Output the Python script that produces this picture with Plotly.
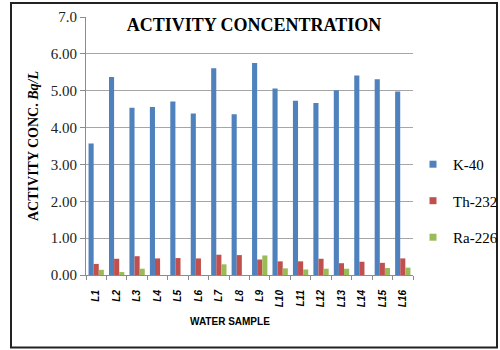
import plotly.graph_objects as go

samples = ["L1", "L2", "L3", "L4", "L5", "L6", "L7", "L8",
           "L9", "L10", "L11", "L12", "L13", "L14", "L15", "L16"]
k40 = [3.57, 5.37, 4.54, 4.56, 4.71, 4.38, 5.61, 4.36,
       5.75, 5.06, 4.73, 4.67, 5.01, 5.41, 5.31, 4.98]
th232 = [0.30, 0.44, 0.51, 0.45, 0.46, 0.45, 0.55, 0.54,
         0.42, 0.37, 0.37, 0.44, 0.32, 0.36, 0.33, 0.45]
ra226 = [0.14, 0.08, 0.17, 0.0, 0.0, 0.0, 0.29, 0.0,
         0.53, 0.18, 0.15, 0.17, 0.17, 0.0, 0.19, 0.20]
series_names = ["K-40", "Th-232", "Ra-226"]
colors = ["#4f81bd", "#c0504d", "#9bbb59"]
ytick_vals = [0, 1, 2, 3, 4, 5, 6, 7]
ytick_text = ["0.00", "1.00", "2.00", "3.00", "4.00", "5.00", "6.00", "7.0"]

serif = "Liberation Serif, Times New Roman, serif"
sans = "Liberation Sans, Arial, sans-serif"

fig = go.Figure()
for name, vals, col in zip(series_names, [k40, th232, ra226], colors):
    fig.add_trace(go.Bar(x=samples, y=vals, name=name, marker_color=col,
                         marker_line_width=0, showlegend=False))
    fig.add_trace(go.Scatter(x=[None], y=[None], mode="markers", name=name,
                             marker=dict(symbol="square", size=7, color=col),
                             legendgroup=name, showlegend=True))

fig.update_layout(
    width=500, height=350,
    margin=dict(l=86, r=87, t=17, b=75, autoexpand=False),
    paper_bgcolor="white", plot_bgcolor="white",
    barmode="group", bargap=0.25, bargroupgap=0,
    title=dict(text="<b>ACTIVITY CONCENTRATION</b>", x=0.508, xanchor="center",
               y=0.93, yanchor="middle",
               font=dict(family=serif, size=18, color="black")),
    legend=dict(x=1.0, xref="paper", xanchor="left", y=0.287, yanchor="middle",
                font=dict(family=serif, size=15, color="black"),
                tracegroupgap=14, itemwidth=30, bgcolor="rgba(0,0,0,0)"),
    xaxis=dict(
        type="category", tickangle=-90, ticks="outside", tickson="boundaries",
        ticklen=4, tickcolor="#8c8c8c", showline=True, linecolor="#8c8c8c",
        tickfont=dict(family=sans, size=10, color="black"),
        showgrid=False, ticklabelstandoff=10,
        tickvals=samples, ticktext=["<b><i>%s</i></b>" % s for s in samples],
    ),
    yaxis=dict(
        range=[0, 7], tickvals=ytick_vals, ticktext=ytick_text,
        ticks="outside", ticklen=5, tickcolor="#8c8c8c",
        showline=True, linecolor="#8c8c8c", showgrid=True, gridcolor="#a6a6a6",
        tickfont=dict(family=serif, size=15, color="#222"), zeroline=False,
        title=dict(text="<b>ACTIVITY CONC. <i>Bq/L</i></b>", standoff=8,
                   font=dict(family=serif, size=14, color="black")),
    ),
)

fig.add_annotation(text="<b>WATER SAMPLE</b>", xref="paper", yref="paper",
                   x=(230 - 86) / 327, y=(275 - 322) / 258, showarrow=False,
                   xanchor="center", yanchor="middle",
                   font=dict(family=sans, size=10, color="black"))

fig.add_shape(type="rect", xref="paper", yref="paper",
              x0=(11 - 86) / 327, x1=(497 - 86) / 327,
              y0=(275 - 347.5) / 258, y1=(275 - 3) / 258,
              line=dict(color="#222", width=2), layer="above")

fig.write_html("out.html")
